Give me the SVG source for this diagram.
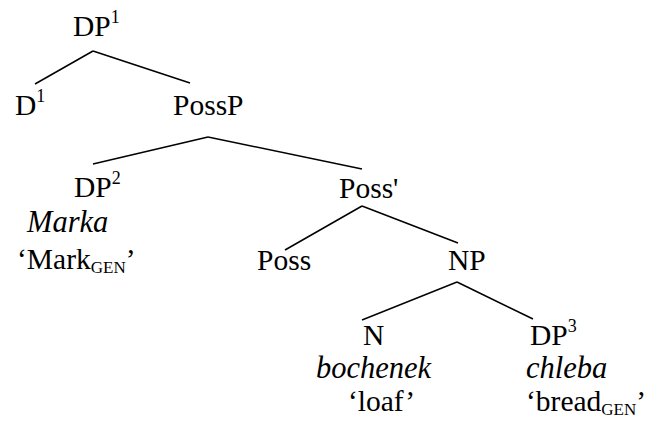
<svg xmlns="http://www.w3.org/2000/svg" width="656" height="424" viewBox="0 0 656 424">
<style>
text{font-family:"Liberation Serif","Times New Roman",serif;font-size:29.5px;fill:#000}
.i{font-style:italic;font-size:30.5px}
.sup{font-size:18px}
.sub{font-size:17px}
.edges line{stroke:#000;stroke-width:1.5}
</style>
<rect width="656" height="424" fill="#fff"/>
<g class="edges">
<line x1="93" y1="51" x2="35" y2="84"/>
<line x1="93" y1="51" x2="190" y2="83"/>
<line x1="208" y1="137" x2="93" y2="164"/>
<line x1="208" y1="137" x2="362" y2="169"/>
<line x1="362" y1="206" x2="285" y2="250"/>
<line x1="362" y1="206" x2="458" y2="243"/>
<line x1="457" y1="282" x2="362" y2="320"/>
<line x1="457" y1="282" x2="533" y2="319"/>
</g>
<g id="dp1"><text x="73" y="36">DP<tspan class="sup" dy="-13">1</tspan></text></g>
<g id="d1"><text x="15" y="115">D<tspan class="sup" dy="-13">1</tspan></text></g>
<g id="possp"><text x="173" y="115">PossP</text></g>
<g id="dp2"><text x="74" y="197">DP<tspan class="sup" dy="-13">2</tspan></text>
<text class="i" x="27" y="232">Marka</text>
<text x="17" y="269">‘Mark<tspan class="sub" dy="4">GEN</tspan><tspan dy="-4">’</tspan></text></g>
<g id="possbar"><text x="339" y="198">Poss'</text></g>
<g id="poss"><text x="257" y="270">Poss</text></g>
<g id="np"><text x="448" y="270">NP</text></g>
<g id="n"><text x="363" y="345">N</text>
<text class="i" x="316" y="378">bochenek</text>
<text x="348" y="411">‘loaf’</text></g>
<g id="dp3"><text x="530" y="345">DP<tspan class="sup" dy="-13">3</tspan></text>
<text class="i" x="526" y="378">chleba</text>
<text x="526" y="411">‘bread<tspan class="sub" dy="4">GEN</tspan><tspan dy="-4">’</tspan></text></g>
</svg>
